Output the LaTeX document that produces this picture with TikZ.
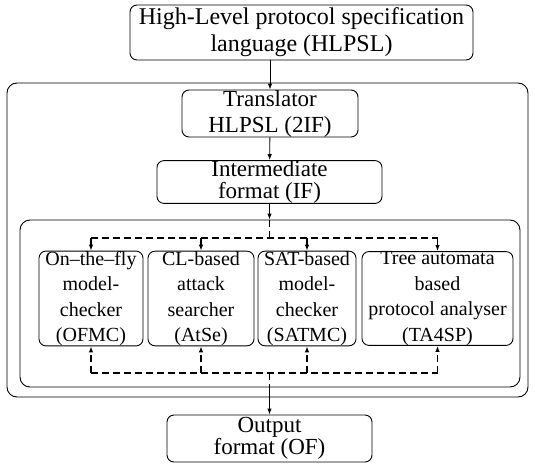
\documentclass[tikz,border=0pt]{standalone}
\usepackage{fontspec}
\setmainfont{Liberation Serif}
\usetikzlibrary{arrows.meta}

\tikzset{
  every path/.style={line width=0.9pt},
  blk/.style={draw, rounded corners=7pt, align=center, inner sep=0pt,
    font=\fontsize{23}{26}\selectfont},
  tool/.style={blk, minimum height=93pt, font=\fontsize{20}{25.5}\selectfont},
  frm/.style={draw, rounded corners=10pt, inner sep=0pt},
  arr/.style={-{Latex[length=6pt,width=4.5pt]}},
  dsh/.style={line width=1.9pt, dash pattern=on 7pt off 4pt},
}

\begin{document}
\begin{tikzpicture}[x=1pt,y=-1pt]
\useasboundingbox (0,0) rectangle (535,463);
% frames
\node[frm, minimum width=521pt, minimum height=314pt] (outer) at (267.5,240) {};
\node[frm, minimum width=500pt, minimum height=167pt] (inner) at (270,303.5) {};
% blocks
\node[blk, minimum width=343pt, minimum height=55pt, font=\fontsize{24}{27}\selectfont] (hlpsl) at (301.5,32.5) {High-Level protocol specification\\language (HLPSL)};
\node[blk, minimum width=176pt, minimum height=47pt] (trans) at (270,113.5) {Translator\\HLPSL (2IF)};
\node[blk, minimum width=225pt, minimum height=42pt, font=\fontsize{23}{22}\selectfont] (inter) at (269.5,182) {Intermediate\\format (IF)};
\node[tool, minimum width=104pt] (ofmc) at (91,298.5) {On–the–fly\\model-\\checker\\(OFMC)};
\node[tool, minimum width=106pt] (atse) at (201,298.5) {CL-based\\attack\\searcher\\(AtSe)};
\node[tool, minimum width=98pt] (satmc) at (307,298.5) {SAT-based\\model-\\checker\\(SATMC)};
\node[tool, minimum width=151pt] (ta4sp) at (437.5,298.5) {Tree automata\\based\\protocol analyser\\(TA4SP)};
\node[blk, minimum width=205pt, minimum height=47pt, font=\fontsize{23}{22}\selectfont] (out) at (269.5,438.5) {Output\\format (OF)};
\coordinate (split) at (269.5,238);
\coordinate (merge) at (269.5,373);
% connectors
\draw[arr] (trans.north |- hlpsl.south) -- (trans.north);
\draw[arr] (trans) -- (inter);
\draw[arr] (inter.south) -- (inter.south |- inner.north);
\draw[dsh] (inter.south |- inner.north) -- (split);
\draw[dsh] (ofmc.north |- split) -- (ta4sp.north |- split);
\draw[dsh] (ofmc.south |- merge) -- (ta4sp.south |- merge);
\foreach \b in {ofmc, atse, satmc, ta4sp} {
  \draw[dsh, arr] (\b.north |- split) -- (\b.north);
  \draw[dsh, arr] (\b.south |- merge) -- (\b.south);
}
\draw[dsh] (merge) -- (merge |- inner.south);
\draw[arr] (merge |- inner.south) -- (out.north);
\end{tikzpicture}
\end{document}
